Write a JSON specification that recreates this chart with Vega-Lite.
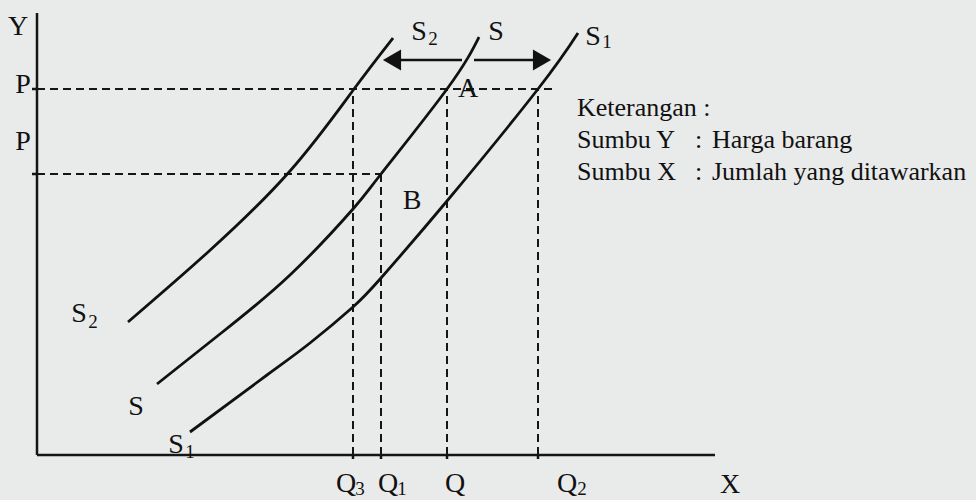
{
  "$schema": "https://vega.github.io/schema/vega-lite/v6.json",
  "width": 976,
  "height": 500,
  "autosize": "none",
  "padding": 0,
  "background": "#e9eaea",
  "config": {"view": {"stroke": null}},
  "datasets": {
    "axes": [
      {"x": 0, "y": 0, "x2": 0, "y2": 442},
      {"x": 0, "y": 0, "x2": 678, "y2": 0},
      {"x": -5, "y": 366, "x2": 0, "y2": 366},
      {"x": -5, "y": 281, "x2": 0, "y2": 281},
      {"x": 316, "y": 0, "x2": 316, "y2": -4},
      {"x": 344, "y": 0, "x2": 344, "y2": -4},
      {"x": 410, "y": 0, "x2": 410, "y2": -4},
      {"x": 501, "y": 0, "x2": 501, "y2": -4}
    ],
    "guides": [
      {"x": 0, "y": 366, "x2": 518, "y2": 366},
      {"x": 0, "y": 281, "x2": 344, "y2": 281},
      {"x": 316, "y": 0, "x2": 316, "y2": 366},
      {"x": 344, "y": 0, "x2": 344, "y2": 281},
      {"x": 410, "y": 0, "x2": 410, "y2": 366},
      {"x": 501, "y": 0, "x2": 501, "y2": 366}
    ],
    "curves": [
      {"curve": "S2", "x": 91, "y": 133},
      {"curve": "S2", "x": 170, "y": 202},
      {"curve": "S2", "x": 253, "y": 284},
      {"curve": "S2", "x": 317, "y": 366},
      {"curve": "S2", "x": 356, "y": 417},
      {"curve": "S", "x": 120, "y": 71},
      {"curve": "S", "x": 183, "y": 121},
      {"curve": "S", "x": 253, "y": 180},
      {"curve": "S", "x": 316, "y": 246},
      {"curve": "S", "x": 344, "y": 281},
      {"curve": "S", "x": 410, "y": 366},
      {"curve": "S", "x": 442, "y": 418},
      {"curve": "S1", "x": 153, "y": 23},
      {"curve": "S1", "x": 230, "y": 80},
      {"curve": "S1", "x": 273, "y": 112},
      {"curve": "S1", "x": 316, "y": 148},
      {"curve": "S1", "x": 344, "y": 177},
      {"curve": "S1", "x": 410, "y": 254},
      {"curve": "S1", "x": 501, "y": 366},
      {"curve": "S1", "x": 541, "y": 422}
    ],
    "shafts": [
      {"x": 362, "y": 395, "x2": 425, "y2": 395},
      {"x": 437, "y": 395, "x2": 498, "y2": 395}
    ],
    "heads": [
      {"dir": "left", "x": 355, "y": 395},
      {"dir": "right", "x": 505, "y": 395}
    ],
    "labels": [
      {"t": "S", "x": 382, "y": 423},
      {"t": "S", "x": 459, "y": 423},
      {"t": "S", "x": 556, "y": 418},
      {"t": "A", "x": 431, "y": 366},
      {"t": "B", "x": 375, "y": 254},
      {"t": "S", "x": 42, "y": 141},
      {"t": "S", "x": 99, "y": 48},
      {"t": "S", "x": 139, "y": 10},
      {"t": "Y", "x": -19, "y": 428},
      {"t": "P", "x": -14, "y": 370},
      {"t": "P", "x": -14, "y": 313},
      {"t": "Q", "x": 309, "y": -29},
      {"t": "Q", "x": 351, "y": -29},
      {"t": "Q", "x": 418, "y": -29},
      {"t": "Q", "x": 530, "y": -29},
      {"t": "X", "x": 693, "y": -30}
    ],
    "subs": [
      {"t": "2", "x": 396, "y": 416},
      {"t": "1", "x": 570, "y": 413},
      {"t": "2", "x": 56, "y": 133},
      {"t": "1", "x": 153, "y": 3},
      {"t": "3", "x": 323, "y": -34},
      {"t": "1", "x": 365, "y": -34},
      {"t": "2", "x": 545, "y": -34}
    ],
    "notes": [
      {"t": "Keterangan :", "x": 540, "y": 347},
      {"t": "Sumbu Y", "x": 540, "y": 315},
      {"t": ":", "x": 658, "y": 315},
      {"t": "Harga barang", "x": 675, "y": 315},
      {"t": "Sumbu X", "x": 540, "y": 283},
      {"t": ":", "x": 658, "y": 283},
      {"t": "Jumlah yang ditawarkan", "x": 675, "y": 283}
    ]
  },
  "encoding": {
    "x": {"field": "x", "type": "quantitative", "scale": {"domain": [-37, 939], "nice": false, "zero": false}, "axis": null},
    "y": {"field": "y", "type": "quantitative", "scale": {"domain": [-45, 455], "nice": false, "zero": false}, "axis": null}
  },
  "layer": [
    {
      "data": {"name": "guides"},
      "mark": {"type": "rule", "color": "#151515", "strokeWidth": 2, "strokeDash": [8, 5]},
      "encoding": {"x2": {"field": "x2"}, "y2": {"field": "y2"}}
    },
    {
      "data": {"name": "axes"},
      "mark": {"type": "rule", "color": "#151515", "strokeWidth": 2.5},
      "encoding": {"x2": {"field": "x2"}, "y2": {"field": "y2"}}
    },
    {
      "data": {"name": "curves"},
      "mark": {"type": "line", "color": "#111111", "strokeWidth": 2.8, "interpolate": "natural"},
      "encoding": {"detail": {"field": "curve"}}
    },
    {
      "data": {"name": "shafts"},
      "mark": {"type": "rule", "color": "#111111", "strokeWidth": 2.5},
      "encoding": {"x2": {"field": "x2"}, "y2": {"field": "y2"}}
    },
    {
      "data": {"name": "heads"},
      "mark": {"type": "point", "filled": true, "color": "#111111", "opacity": 1, "size": 440},
      "encoding": {
        "shape": {"field": "dir", "type": "nominal", "scale": {"domain": ["left", "right"], "range": ["triangle-left", "triangle-right"]}, "legend": null}
      }
    },
    {
      "data": {"name": "labels"},
      "mark": {"type": "text", "font": "Liberation Serif", "fontSize": 28, "color": "#111111", "align": "center", "baseline": "middle"},
      "encoding": {"text": {"field": "t"}}
    },
    {
      "data": {"name": "subs"},
      "mark": {"type": "text", "font": "Liberation Serif", "fontSize": 19, "color": "#111111", "align": "center", "baseline": "middle"},
      "encoding": {"text": {"field": "t"}}
    },
    {
      "data": {"name": "notes"},
      "mark": {"type": "text", "font": "Liberation Serif", "fontSize": 26, "color": "#111111", "align": "left", "baseline": "middle"},
      "encoding": {"text": {"field": "t"}}
    }
  ]
}
